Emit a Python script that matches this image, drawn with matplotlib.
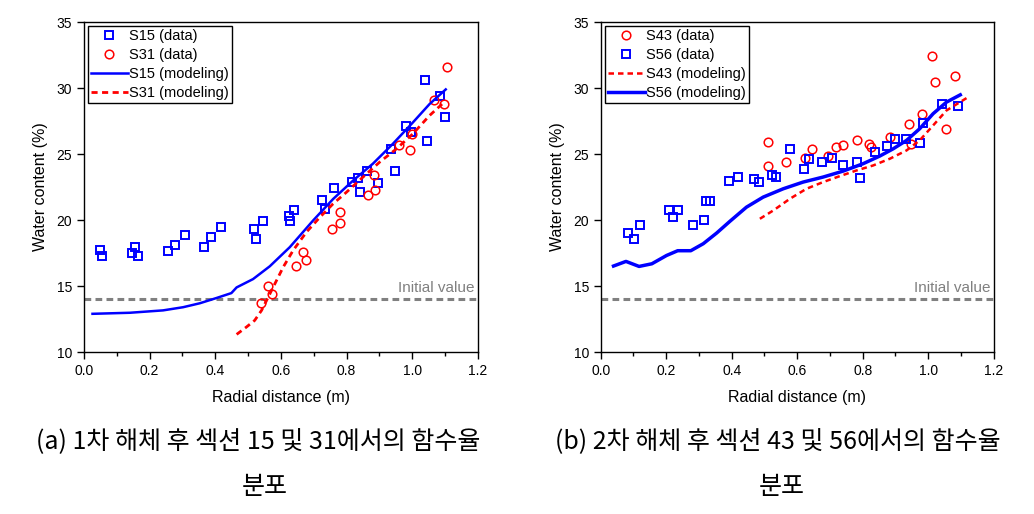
import matplotlib
matplotlib.use('Agg')
import matplotlib.pyplot as plt
from matplotlib.ticker import MultipleLocator

plt.rcParams['font.family'] = ['Liberation Sans', 'DejaVu Sans']

# (a) 섹션 15, 31
s15_x = [0.049, 0.056, 0.147, 0.155, 0.165, 0.257, 0.277, 0.308, 0.366, 0.386, 0.418,
         0.517, 0.524, 0.546, 0.624, 0.628, 0.640, 0.725, 0.735, 0.761, 0.817, 0.835,
         0.841, 0.862, 0.897, 0.947, 0.936, 0.981, 0.996, 1.046, 1.038, 1.083, 1.100]
s15_y = [17.75, 17.25, 17.5, 17.95, 17.25, 17.65, 18.1, 18.9, 17.95, 18.75, 19.45,
         19.35, 18.6, 19.9, 20.3, 19.95, 20.8, 21.55, 20.85, 22.45, 22.9, 23.2,
         22.15, 23.7, 22.8, 23.75, 25.35, 27.1, 26.65, 26.0, 30.6, 29.4, 27.8]
s31_x = [1.105, 1.065, 1.097, 1.000, 0.959, 0.994, 0.882, 0.886, 0.865, 0.779, 0.781,
         0.757, 0.666, 0.677, 0.646, 0.561, 0.572, 0.540]
s31_y = [31.6, 29.1, 28.8, 26.55, 25.7, 25.3, 23.45, 22.3, 21.9, 20.6, 19.8,
         19.3, 17.55, 16.95, 16.55, 15.0, 14.4, 13.75]
s15_mx = [0.026, 0.140, 0.241, 0.302, 0.353, 0.404, 0.449, 0.465, 0.515, 0.566, 0.627,
          0.698, 0.759, 0.820, 0.880, 0.941, 1.002, 1.053, 1.102]
s15_my = [12.9, 12.98, 13.16, 13.4, 13.7, 14.1, 14.47, 14.9, 15.53, 16.5, 17.95,
          19.97, 21.6, 23.0, 24.27, 25.78, 27.4, 28.8, 29.9]
s31_mx = [0.465, 0.495, 0.520, 0.541, 0.556, 0.576, 0.607, 0.637, 0.678, 0.718, 0.759,
          0.799, 0.850, 0.901, 0.952, 1.002, 1.053, 1.094]
s31_my = [11.34, 11.9, 12.4, 13.16, 13.9, 14.9, 16.44, 17.7, 19.1, 20.2, 21.24,
          22.1, 23.26, 24.4, 25.4, 26.54, 27.93, 28.86]

# (b) 섹션 43, 56
s43_x = [0.510, 0.510, 0.566, 0.624, 0.646, 0.694, 0.717, 0.740, 0.783, 0.820, 0.825,
         0.882, 0.941, 0.947, 0.980, 1.011, 1.021, 1.055, 1.082]
s43_y = [25.93, 24.12, 24.42, 24.70, 25.40, 24.87, 25.5, 25.66, 26.04, 25.78, 25.53,
         26.26, 27.27, 25.73, 28.03, 32.4, 30.45, 26.89, 30.9]
s56_x = [0.084, 0.103, 0.121, 0.209, 0.220, 0.235, 0.283, 0.316, 0.320, 0.335, 0.393,
         0.420, 0.468, 0.484, 0.523, 0.535, 0.579, 0.621, 0.635, 0.676, 0.705, 0.740,
         0.783, 0.792, 0.838, 0.874, 0.899, 0.932, 0.974, 0.984, 1.042, 1.090]
s56_y = [19.04, 18.59, 19.60, 20.78, 20.25, 20.76, 19.65, 20.03, 21.41, 21.46, 22.98,
         23.26, 23.08, 22.90, 23.38, 23.23, 25.38, 23.84, 24.62, 24.37, 24.72, 24.19,
         24.39, 23.21, 25.15, 25.63, 26.14, 26.14, 25.83, 27.32, 28.81, 28.64]
s56_mx = [0.039, 0.077, 0.117, 0.156, 0.201, 0.235, 0.275, 0.313, 0.354, 0.395, 0.445,
          0.496, 0.557, 0.618, 0.679, 0.740, 0.801, 0.852, 0.893, 0.934, 0.974, 1.015,
          1.056, 1.098]
s56_my = [16.52, 16.87, 16.49, 16.69, 17.32, 17.68, 17.68, 18.21, 19.02, 19.92, 20.98,
          21.74, 22.37, 22.88, 23.26, 23.71, 24.27, 24.85, 25.40, 26.04, 26.92, 28.06,
          28.94, 29.49]
s43_mx = [0.486, 0.527, 0.578, 0.628, 0.679, 0.730, 0.781, 0.832, 0.883, 0.934, 0.974,
          1.015, 1.056, 1.117]
s43_my = [20.10, 20.73, 21.62, 22.37, 22.88, 23.33, 23.76, 24.14, 24.65, 25.28, 26.04,
          27.17, 28.31, 29.24]

initial_value = 14.0
captions = [['(a) 1차 해체 후 섹션 15 및 31에서의 함수율', '분포'],
            ['(b) 2차 해체 후 섹션 43 및 56에서의 함수율', '분포']]

fig = plt.figure(figsize=(10.34, 5.14), dpi=100)
ax1 = fig.add_axes([0.0812, 0.315, 0.381, 0.642])
ax2 = fig.add_axes([0.581, 0.315, 0.380, 0.642])

sq = dict(marker='s', ls='none', mfc='none', mec='#0000ff', ms=5.5, mew=1.4)
ci = dict(marker='o', ls='none', mfc='none', mec='#ff0000', ms=6.2, mew=1.1)
red_dash = (0, (2.2, 1.6))

# 왼쪽 그림
ax1.plot(s15_x, s15_y, label='S15 (data)', **sq)
ax1.plot(s31_x, s31_y, label='S31 (data)', **ci)
ax1.plot(s15_mx, s15_my, color='#0000ff', lw=1.8, label='S15 (modeling)')
ax1.plot(s31_mx, s31_my, color='#ff0000', lw=2.0, ls=red_dash, label='S31 (modeling)')

# 오른쪽 그림
ax2.plot(s43_x, s43_y, label='S43 (data)', **ci)
ax2.plot(s56_x, s56_y, label='S56 (data)', **sq)
ax2.plot(s43_mx, s43_my, color='#ff0000', lw=1.8, ls=red_dash, label='S43 (modeling)')
ax2.plot(s56_mx, s56_my, color='#0000ff', lw=2.5, label='S56 (modeling)')

for ax in [ax1, ax2]:
    ax.axhline(initial_value, color='#808080', lw=2.2, ls=(0, (2.2, 1.4)), zorder=1)
    ax.text(1.19, initial_value + 0.35, 'Initial value', color='#808080', fontsize=11,
            ha='right', va='bottom')
    ax.set_xlim(0, 1.2)
    ax.set_ylim(10, 35)
    ax.xaxis.set_major_locator(MultipleLocator(0.2))
    ax.xaxis.set_minor_locator(MultipleLocator(0.1))
    ax.yaxis.set_major_locator(MultipleLocator(5))
    ax.tick_params(axis='both', which='major', direction='out', length=5, width=1,
                   labelsize=10, top=False, right=False)
    ax.tick_params(axis='x', which='minor', direction='out', length=3, width=1)
    ax.set_xticklabels(['%.1f' % v for v in ax.get_xticks()])
    ax.set_xlabel('Radial distance (m)', fontsize=11.5, labelpad=9)
    ax.set_ylabel('Water content (%)', fontsize=11.5, labelpad=6)
    for s in ax.spines.values():
        s.set_linewidth(1.0)
    leg = ax.legend(loc='upper left', fontsize=10.5, frameon=True, fancybox=False,
                    edgecolor='black', framealpha=1, borderpad=0.2, labelspacing=0.33,
                    handlelength=2.5, handletextpad=0.1, borderaxespad=0.3)
    leg.get_frame().set_linewidth(1.0)

cjk = ['Noto Sans CJK KR', 'DejaVu Sans']
fig.text(0.250, 0.140, captions[0][0], fontsize=18, ha='center', va='center', family=cjk)
fig.text(0.256, 0.053, captions[0][1], fontsize=18, ha='center', va='center', family=cjk)
fig.text(0.752, 0.140, captions[1][0], fontsize=18, ha='center', va='center', family=cjk)
fig.text(0.756, 0.053, captions[1][1], fontsize=18, ha='center', va='center', family=cjk)

fig.savefig('out.png', dpi=100)
